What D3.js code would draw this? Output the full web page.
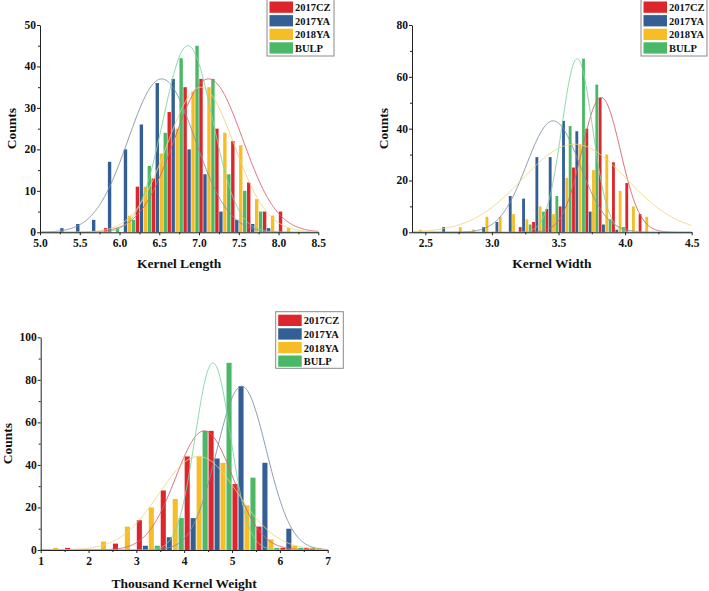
<!DOCTYPE html>
<html><head><meta charset="utf-8">
<script src="https://cdn.jsdelivr.net/npm/d3@7"></script>
<style>
body{margin:0;background:#fff}
svg{display:block}
text{font-family:"Liberation Serif","Times New Roman",serif;font-weight:bold;fill:#111}
</style>
</head><body><svg id="c" width="709" height="591"></svg>
<script>
// ---------- series ----------
const seriesNames = ["2017CZ","2017YA","2018YA","BULP"];
const barColors   = ["#dd262b","#335f94","#f6bd27","#4ab867"];
const curveColors = ["#d5606b","#7d90a7","#f0d27a","#7fd4a3"];
const barOrder    = ["2018YA","BULP","2017CZ","2017YA"]; // left-to-right within a bin

// ---------- Kernel Length ----------
const lenBins   = [5.2,5.4,5.6,5.8,6.0,6.2,6.4,6.6,6.8,7.0,7.2,7.4,7.6,7.8,8.0,8.2];
const len2017CZ = [0,0,0,1,0,11,13,29,35,37,25,22,12,5,5,0];
const len2017YA = [1,2,3,17,20,26,36,37,20,14,5,3,2,1,0,0];
const len2018YA = [0,0,0,0,0,4,11,19,25,34,35,24,21,8,4,1];
const lenBULP   = [0,0,0,0,1,3,16,24,42,45,37,14,10,5,0,0];
const lenFitMean  = [7.12,6.53,7.02,6.86];
const lenFitSigma = [0.43,0.42,0.42,0.31];
const lenFitPeak  = [37,37,35,45];
const lenXTicks = [5.0,5.5,6.0,6.5,7.0,7.5,8.0,8.5];
const lenYTicks = [0,10,20,30,40,50];

// ---------- Kernel Width ----------
const widBins   = [2.5,2.6,2.7,2.8,2.9,3.0,3.1,3.2,3.3,3.4,3.5,3.6,3.7,3.8,3.9,4.0,4.1,4.2];
const wid2017CZ = [0,0,0,0,0,0,0,2,4,9,10,25,40,52,27,19,7,0];
const wid2017YA = [0,2,0,0,2,4,14,13,29,29,43,39,8,3,1,0,0,0];
const wid2018YA = [1,0,0,2,1,6,6,7,5,10,7,21,34,24,30,16,10,6];
const widBULP   = [0,0,0,0,0,0,0,0,3,8,14,41,67,57,5,2,0,0];
const widFitMean  = [3.82,3.46,3.62,3.64];
const widFitSigma = [0.145,0.2,0.39,0.115];
const widFitPeak  = [52,43,34,67];
const widXTicks = [2.5,3.0,3.5,4.0,4.5];
const widYTicks = [0,20,40,60,80];

// ---------- Thousand Kernel Weight ----------
const wtBins   = [1.5,2.0,2.5,3.0,3.5,4.0,4.5,5.0,5.5,6.0,6.5,7.0];
const wt2017CZ = [1,0,3,14,28,44,56,31,11,1,1,0];
const wt2017YA = [0,0,0,2,6,15,43,77,41,10,1,0];
const wt2018YA = [1,0,4,11,20,24,44,41,21,5,2,1];
const wtBULP   = [0,0,0,0,2,15,56,88,34,1,1,0];
const wtFitMean  = [4.42,5.2,4.3,4.6];
const wtFitSigma = [0.6,0.52,0.82,0.37];
const wtFitPeak  = [56,77,44,88];
const wtXTicks = [1,2,3,4,5,6,7];
const wtYTicks = [0,20,40,60,80,100];

const svg = d3.select("#c");

function panel(cfg){
  const x = d3.scaleLinear().domain(cfg.xDomain).range(cfg.xRange);
  const y = d3.scaleLinear().domain(cfg.yDomain).range(cfg.yRange);
  const g = svg.append("g");
  const sub = cfg.binWidth/4;
  const bw = Math.abs(x(sub)-x(0))*0.85;

  // bars
  seriesNames.forEach((name,si)=>{
    const vals = cfg.values[si];
    const pos = barOrder.indexOf(name);
    g.append("g").selectAll("rect")
      .data(cfg.bins.map((b,i)=>({b,v:vals[i]})).filter(d=>d.v>0))
      .join("rect")
      .attr("x",d=>x(d.b+(pos-1.5)*sub)-bw/2)
      .attr("width",bw)
      .attr("y",d=>y(d.v))
      .attr("height",d=>y(0)-y(d.v))
      .attr("fill",barColors[si]);
  });

  // fitted normal curves
  const xs = d3.range(cfg.xDomain[0],cfg.xDomain[1]+1e-9,(cfg.xDomain[1]-cfg.xDomain[0])/400);
  seriesNames.forEach((name,si)=>{
    const m=cfg.fitMean[si], s=cfg.fitSigma[si], p=cfg.fitPeak[si];
    const line = d3.line().x(d=>x(d)).y(d=>y(p*Math.exp(-((d-m)*(d-m))/(2*s*s))));
    g.append("path").attr("d",line(xs)).attr("fill","none")
      .attr("stroke",curveColors[si]).attr("stroke-width",0.9);
  });

  // axes
  const xAx = g.append("g").attr("transform",`translate(0,${cfg.yRange[0]})`)
    .call(d3.axisBottom(x).tickValues(cfg.xTicks).tickFormat(cfg.xFmt).tickSize(3).tickSizeOuter(0));
  g.append("g").attr("transform",`translate(0,${cfg.yRange[0]})`)
    .call(d3.axisBottom(x).tickValues(cfg.xTicks.slice(0,-1).map((t,i)=>(t+cfg.xTicks[i+1])/2)).tickFormat("").tickSize(2))
    .select(".domain").remove();
  const yAx = g.append("g").attr("transform",`translate(${cfg.xRange[0]},0)`)
    .call(d3.axisLeft(y).tickValues(cfg.yTicks).tickSize(3).tickSizeOuter(0));
  g.append("g").attr("transform",`translate(${cfg.xRange[0]},0)`)
    .call(d3.axisLeft(y).tickValues(cfg.yTicks.slice(0,-1).map((t,i)=>(t+cfg.yTicks[i+1])/2)).tickFormat("").tickSize(2))
    .select(".domain").remove();
  g.selectAll(".tick text").attr("font-size",11.5).attr("font-family","Liberation Serif").attr("font-weight","bold").attr("fill","#111");
  xAx.selectAll(".tick text").attr("dy","0.72em").attr("y",6.5);
  yAx.selectAll(".tick text").attr("x",-4).attr("dy","0.3em");
  g.selectAll(".domain,.tick line").attr("stroke","#222").attr("stroke-width",1);

  // titles
  g.append("text").attr("x",(cfg.xRange[0]+cfg.xRange[1])/2).attr("y",cfg.xTitleY)
    .attr("text-anchor","middle").attr("font-size",13.5).text(cfg.xTitle);
  g.append("text").attr("transform",`translate(${cfg.yTitleX},${(cfg.yRange[0]+cfg.yRange[1])/2}) rotate(-90)`)
    .attr("text-anchor","middle").attr("font-size",13.5).text("Counts");

  // legend
  const L = cfg.legend;
  g.append("rect").attr("x",L.x).attr("y",L.y).attr("width",L.w).attr("height",L.h)
    .attr("fill","#fff").attr("stroke","#8a8a8a").attr("stroke-width",1);
  seriesNames.forEach((name,si)=>{
    const ry = L.y+3+si*13.6;
    g.append("rect").attr("x",L.x+2.5).attr("y",ry).attr("width",23.5).attr("height",11.3).attr("fill",barColors[si]);
    g.append("text").attr("x",L.x+28).attr("y",ry+9.6).attr("font-size",10.5).text(name);
  });
}

panel({
  bins:lenBins, binWidth:0.2, values:[len2017CZ,len2017YA,len2018YA,lenBULP],
  fitMean:lenFitMean, fitSigma:lenFitSigma, fitPeak:lenFitPeak,
  xDomain:[5,8.5], xRange:[40,318.3], yDomain:[0,50], yRange:[232.3,25],
  xTicks:lenXTicks, yTicks:lenYTicks, xFmt:d3.format(".1f"),
  xTitle:"Kernel Length", xTitleY:268, yTitleX:16,
  legend:{x:267,y:-1.5,w:67,h:57.5}
});
panel({
  bins:widBins, binWidth:0.1, values:[wid2017CZ,wid2017YA,wid2018YA,widBULP],
  fitMean:widFitMean, fitSigma:widFitSigma, fitPeak:widFitPeak,
  xDomain:[2.4,4.5], xRange:[412,691.7], yDomain:[0,80], yRange:[232.3,25],
  xTicks:widXTicks, yTicks:widYTicks, xFmt:d3.format(".1f"),
  xTitle:"Kernel Width", xTitleY:268, yTitleX:388,
  legend:{x:641,y:-1.5,w:66,h:57.5}
});
panel({
  bins:wtBins, binWidth:0.5, values:[wt2017CZ,wt2017YA,wt2018YA,wtBULP],
  fitMean:wtFitMean, fitSigma:wtFitSigma, fitPeak:wtFitPeak,
  xDomain:[1,7], xRange:[40.7,327.7], yDomain:[0,100], yRange:[550,337.3],
  xTicks:wtXTicks, yTicks:wtYTicks, xFmt:d3.format("d"),
  xTitle:"Thousand Kernel Weight", xTitleY:588, yTitleX:12,
  legend:{x:275.7,y:311.7,w:67.6,h:56.6}
});
</script>
</body></html>
